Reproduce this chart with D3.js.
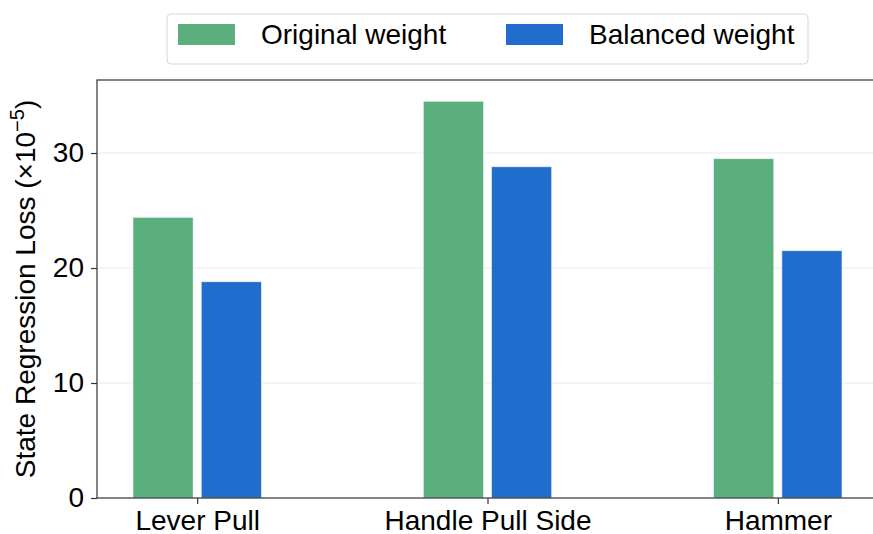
<!DOCTYPE html>
<html>
<head>
<meta charset="utf-8">
<script src="https://cdn.jsdelivr.net/npm/d3@7"></script>
<style>
body{margin:0;background:#fff;}
text{font-family:"Liberation Sans",Arial,sans-serif;fill:#000;}
</style>
</head>
<body>
<div id="chart"></div>
<script>
let tasks=["Lever Pull","Handle Pull Side","Hammer"];
let seriesNames=["Original weight","Balanced weight"];
let original=[24.4,34.5,29.5];
let balanced=[18.8,28.8,21.5];
let yTicks=[0,10,20,30];
let colors=["#5aaf7d","#206dcd"];

let width=873, height=534;
let plotL=97, plotR=878, plotT=80, plotB=498;

let svg=d3.select("#chart").append("svg")
  .attr("width",width).attr("height",height);

// x: groups at 0,1,2 like matplotlib
let x=d3.scaleLinear().domain([-0.345,2.345]).range([plotL,plotR]);
let y=d3.scaleLinear().domain([0,36.35]).range([plotB,plotT]);
let barW=0.207, off=0.014;

// grid
svg.append("g").selectAll("line")
  .data(yTicks.filter(d=>d>0))
  .enter().append("line")
  .attr("x1",plotL).attr("x2",plotR)
  .attr("y1",d=>y(d)).attr("y2",d=>y(d))
  .attr("stroke","#ececf4").attr("stroke-width",1.2);

let rows=[original,balanced];
rows.forEach(function(vals,s){
  svg.append("g").selectAll("rect")
    .data(vals)
    .enter().append("rect")
    .attr("x",(d,i)=> s===0 ? x(i-off-barW) : x(i+off))
    .attr("width",x(barW)-x(0))
    .attr("y",d=>y(d))
    .attr("height",d=>y(0)-y(d))
    .attr("fill",colors[s])
    .attr("stroke","#e8f2ee").attr("stroke-width",0.6);
});

// axes
let yAxis=d3.axisLeft(y).tickValues(yTicks).tickSize(6).tickPadding(7);
let gy=svg.append("g").attr("transform","translate("+plotL+",0)").call(yAxis);
gy.select(".domain").remove();
gy.selectAll(".tick line").attr("stroke","#333").attr("stroke-width",1.2);
gy.selectAll(".tick text").style("font-size","28px");

let xAxis=d3.axisBottom(x).tickValues([0,1,2]).tickFormat((d)=>tasks[d]).tickSize(6).tickPadding(6);
let gx=svg.append("g").attr("transform","translate(0,"+plotB+")").call(xAxis);
gx.select(".domain").remove();
gx.selectAll(".tick line").attr("stroke","#333").attr("stroke-width",1.2);
gx.selectAll(".tick text").style("font-size","28px").attr("dy","0.71em");

// spines
svg.append("rect").attr("x",plotL).attr("y",plotT)
  .attr("width",plotR-plotL).attr("height",plotB-plotT)
  .attr("fill","none").attr("stroke","#333").attr("stroke-width",1.2);

// y label
let yl=svg.append("text")
  .attr("transform","translate(35,"+(plotT+plotB)/2+") rotate(-90)")
  .attr("text-anchor","middle").style("font-size","28px");
yl.append("tspan").text("State Regression Loss (×10");
yl.append("tspan").text("−5").attr("dy","-0.55em").style("font-size","20px");
yl.append("tspan").text(")").attr("dy","0.39em");

// legend
let lg=svg.append("g");
lg.append("rect").attr("x",167).attr("y",14).attr("width",641).attr("height",50)
  .attr("rx",4).attr("fill","#fff").attr("stroke","#d6d6d6").attr("stroke-width",1);
let legX=[178,506];
seriesNames.forEach(function(n,i){
  lg.append("rect").attr("x",legX[i]).attr("y",24).attr("width",57).attr("height",21)
    .attr("fill",colors[i]);
  lg.append("text").attr("x",legX[i]+83).attr("y",44).text(n).style("font-size","28px");
});
</script>
</body>
</html>
